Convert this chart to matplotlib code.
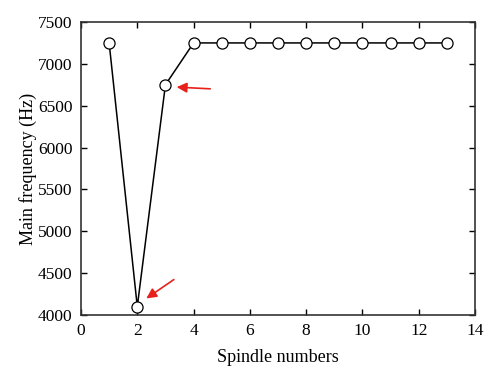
import matplotlib
matplotlib.use("Agg")
import matplotlib.pyplot as plt

spindles = [1, 2, 3, 4, 5, 6, 7, 8, 9, 10, 11, 12, 13]
freq = [7250, 4100, 6750, 7250, 7250, 7250, 7250, 7250, 7250, 7250, 7250, 7250, 7250]
xticks = [0, 2, 4, 6, 8, 10, 12, 14]
yticks = [4000, 4500, 5000, 5500, 6000, 6500, 7000, 7500]

plt.rcParams['font.family'] = ['Liberation Serif', 'DejaVu Serif']
fig = plt.figure(figsize=(5.0, 3.83), dpi=100)
ax = fig.add_axes([81/500, 1-315/383, 394/500, 293/383])
ax.plot(spindles, freq, color='black', lw=1.1, marker='o', markersize=8,
        markerfacecolor='white', markeredgecolor='black', markeredgewidth=0.9)
ax.set_xlim(0, 14)
ax.set_ylim(4000, 7500)
ax.set_xticks(xticks)
ax.set_yticks(yticks)
ax.tick_params(direction='in', top=True, right=True, labelsize=12.5, length=4, width=1, pad=6)
for s in ax.spines.values():
    s.set_linewidth(1.2)
    s.set_color('#333333')
ax.set_xlabel('Spindle numbers', fontsize=13, labelpad=7)
ax.set_ylabel('Main frequency (Hz)', fontsize=13, labelpad=0)
ax.yaxis.set_label_coords(-0.112, 0.5)
ax.annotate('', xy=(3.30, 6724), xytext=(4.69, 6700),
            arrowprops=dict(arrowstyle='-|>', color='#e8201c', lw=1.2, mutation_scale=15))
ax.annotate('', xy=(2.24, 4179), xytext=(3.38, 4442),
            arrowprops=dict(arrowstyle='-|>', color='#e8201c', lw=1.2, mutation_scale=15))
fig.savefig('out.png', dpi=100)
